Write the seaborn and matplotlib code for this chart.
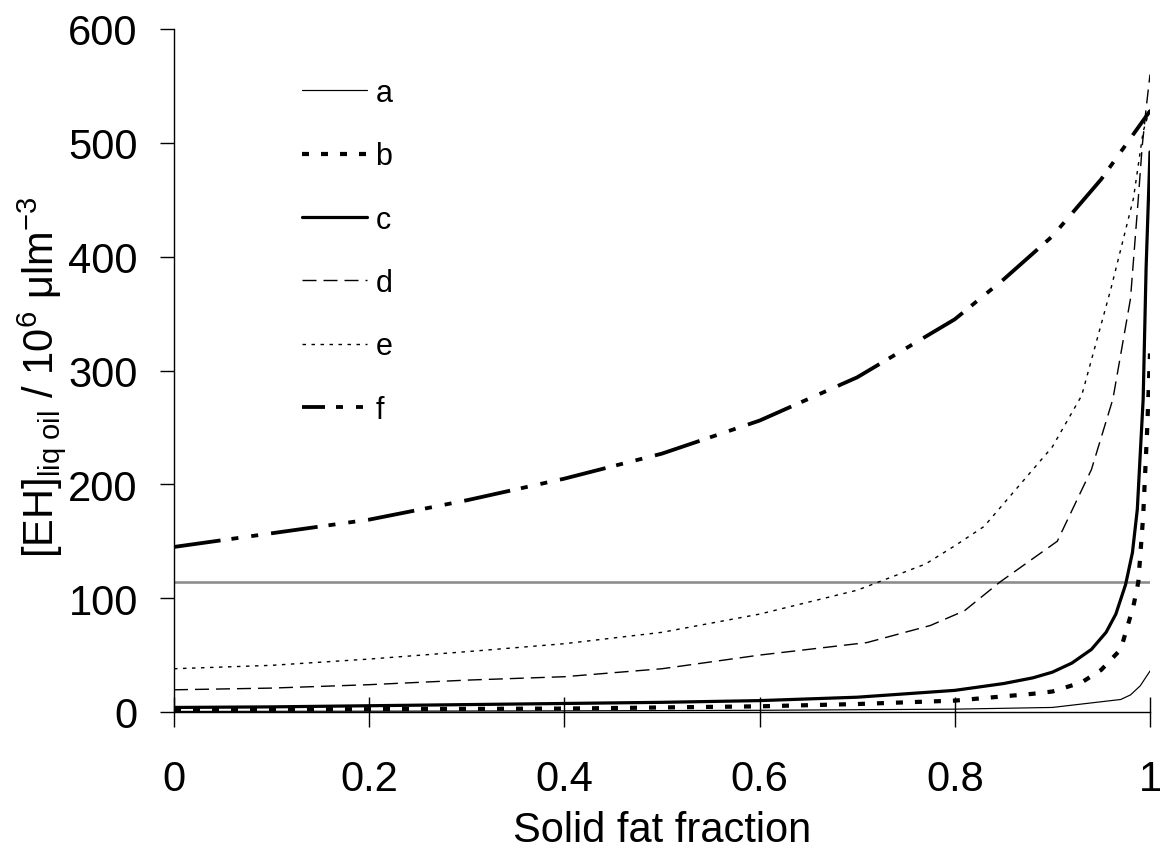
import matplotlib
matplotlib.use("Agg")
import matplotlib.pyplot as plt
import seaborn as sns

# Solid fat fraction (x) and [EH] in the liquid oil (y) for each case a-f
x_a = [0.0, 0.2, 0.4, 0.6, 0.8, 0.9, 0.95, 0.97, 0.98, 0.99, 1.0]
y_a = [0.5, 0.7, 1.0, 1.5, 2.5, 4.0, 9.0, 11.0, 15.0, 23.0, 36.0]

x_b = [0.0, 0.2, 0.4, 0.6, 0.7, 0.8, 0.88, 0.9, 0.93, 0.95, 0.97, 0.983, 0.988, 0.993,
       0.997, 1.0]
y_b = [2.0, 2.5, 3.0, 5.0, 7.0, 10.0, 16.0, 18.0, 26.0, 37.0, 55.0, 93.0, 114.0, 172.0,
       246.0, 315.0]

x_c = [0.0, 0.1, 0.2, 0.3, 0.4, 0.5, 0.6, 0.7, 0.8, 0.85, 0.88, 0.9, 0.92, 0.94, 0.955,
       0.965, 0.975, 0.982, 0.987, 0.993, 0.996, 1.0]
y_c = [4.0, 4.5, 5.5, 6.5, 7.5, 8.5, 10.0, 13.0, 19.0, 25.0, 30.0, 35.0, 43.0, 55.0, 70.0,
       86.0, 112.0, 140.0, 178.0, 275.0, 390.0, 492.0]

x_d = [0.0, 0.1, 0.2, 0.3, 0.4, 0.5, 0.6, 0.71, 0.775, 0.81, 0.846, 0.905, 0.94, 0.962,
       0.98, 0.988, 0.992, 0.996, 1.0]
y_d = [19.5, 21.0, 24.0, 28.0, 31.0, 38.0, 50.0, 61.0, 76.0, 89.0, 114.0, 150.0, 213.0, 275.0,
       363.0, 451.0, 497.0, 530.0, 560.0]

x_e = [0.0, 0.1, 0.2, 0.3, 0.4, 0.5, 0.6, 0.7, 0.77, 0.8, 0.83, 0.9, 0.93, 0.96, 0.983,
       0.993, 1.0]
y_e = [38.0, 41.0, 46.5, 53.0, 60.0, 70.0, 86.0, 107.0, 130.0, 146.0, 163.0, 233.0, 278.0,
       372.0, 451.0, 510.0, 530.0]

x_f = [0.0, 0.1, 0.2, 0.3, 0.4, 0.5, 0.6, 0.7, 0.8, 0.85, 0.9, 0.95, 1.0]
y_f = [145.0, 157.0, 169.0, 186.0, 205.0, 227.0, 256.0, 294.0, 345.0, 380.0, 418.0, 468.0, 528.0]

labels = ["a", "b", "c", "d", "e", "f"]
reference_level = 114.0

x_ticks = [0, 0.2, 0.4, 0.6, 0.8, 1]
x_tick_labels = ["0", "0.2", "0.4", "0.6", "0.8", "1"]
y_ticks = [0, 100, 200, 300, 400, 500, 600]

sns.set_theme(style="ticks")
plt.rcParams["font.family"] = ["Liberation Sans", "DejaVu Sans"]
plt.rcParams["mathtext.fontset"] = "custom"
plt.rcParams["mathtext.rm"] = "Liberation Sans"
plt.rcParams["mathtext.it"] = "Liberation Sans:italic"
plt.rcParams["mathtext.bf"] = "Liberation Sans:bold"
plt.rcParams["lines.scale_dashes"] = False

PX = 72.0 / 100.0  # one pixel in points at 100 dpi

F_DASH = (47 * PX, 11 * PX, 7 * PX, 13 * PX, 7 * PX, 13 * PX)
styles = {
    "a": dict(lw=1.2 * PX, ls="-"),
    "b": dict(lw=4.2 * PX, ls=(0, (7 * PX, 12 * PX))),
    "c": dict(lw=3.2 * PX, ls="-"),
    "d": dict(lw=1.4 * PX, ls=(0, (14 * PX, 7 * PX))),
    "e": dict(lw=1.4 * PX, ls=(0, (3.5 * PX, 5.5 * PX))),
    "f": dict(lw=3.8 * PX, ls=(0, F_DASH)),
}

fig = plt.figure(figsize=(11.6, 8.54), dpi=100)
ax = fig.add_axes([174 / 1160, 1 - 713 / 854, 976 / 1160, 683 / 854])

ax.axhline(reference_level, color="#8c8c8c", lw=2.6 * PX, zorder=1)

series = [(x_a, y_a), (x_b, y_b), (x_c, y_c), (x_d, y_d), (x_e, y_e), (x_f, y_f)]
for lab, (xs, ys) in zip(labels, series):
    st = styles[lab]
    sns.lineplot(x=xs, y=ys, ax=ax, color="black", linewidth=st["lw"],
                 linestyle=st["ls"], label=lab, errorbar=None, zorder=3)

ax.set_xlim(0, 1)
ax.set_ylim(0, 600)
ax.set_xticks(x_ticks)
ax.set_xticklabels(x_tick_labels)
ax.set_yticks(y_ticks)

sns.despine(ax=ax)
for side in ("left", "bottom"):
    ax.spines[side].set_linewidth(1.4 * PX)
    ax.spines[side].set_color("black")

ax.tick_params(axis="x", direction="inout", length=30 * PX, width=1.4 * PX,
               labelsize=30, pad=23, colors="black")
ax.tick_params(axis="y", direction="out", length=14 * PX, width=1.4 * PX,
               labelsize=30, pad=16, colors="black")

ax.set_xlabel("Solid fat fraction", fontsize=30, labelpad=8, color="black")
ax.set_ylabel(r"[EH]$_{\mathrm{liq\ oil}}$ / 10$^{6}$ $\mathrm{\mu}$lm$^{-3}$",
              fontsize=30, color="black")
ax.yaxis.set_label_coords((68 - 174) / 976, (713 - 377) / 683)

leg = ax.legend(loc="upper left", bbox_to_anchor=((302 - 174) / 976, (713 - 79) / 683),
                frameon=False, fontsize=22, handlelength=2.13, handletextpad=0.27,
                labelspacing=1.09, borderpad=0, borderaxespad=0)
for t in leg.get_texts():
    t.set_color("black")
# start the dash-dot legend sample part-way into its long dash
leg.get_lines()[5].set_linestyle((24 * PX, F_DASH))

fig.savefig("out.png", dpi=100, facecolor="white")
